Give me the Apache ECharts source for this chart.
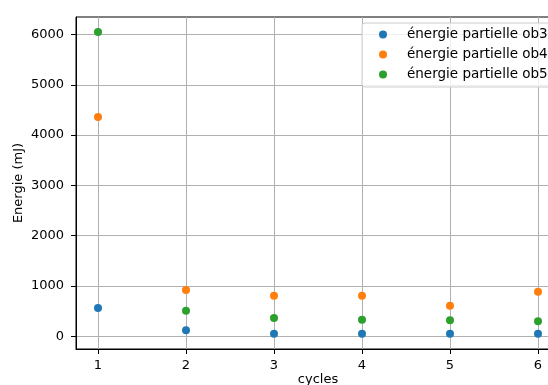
<!DOCTYPE html>
<html>
<head>
<meta charset="utf-8">
<script src="https://cdn.jsdelivr.net/npm/echarts@6/dist/echarts.min.js"></script>
<style>
html,body{margin:0;padding:0;background:#fff;}
#chart{width:548px;height:385px;}
</style>
</head>
<body>
<div id="chart"></div>
<script>
const cycles = [1, 2, 3, 4, 5, 6];
const ob3 = [563, 119, 52, 52, 52, 52];
const ob4 = [4360, 920, 807, 807, 608, 887];
const ob5 = [6050, 509, 364, 330, 318, 298];
const seriesNames = ['énergie partielle ob3', 'énergie partielle ob4', 'énergie partielle ob5'];
const yTicks = [0, 1000, 2000, 3000, 4000, 5000, 6000];
const xTicks = [1, 2, 3, 4, 5, 6];
const colors = ['#1f77b4', '#ff7f0e', '#2ca02c'];

const font = 'DejaVu Sans';
const chart = echarts.init(document.getElementById('chart'), null, {renderer: 'canvas'});

function pairs(ys) { return cycles.map((c, i) => [c, ys[i]]); }

chart.setOption({
  animation: false,
  backgroundColor: '#fff',
  color: colors,
  textStyle: {fontFamily: font},
  grid: {left: 76, top: 17, width: 484, height: 332, outerBoundsMode: 'none', containLabel: false,
    show: true, borderColor: '#000', borderWidth: 1, backgroundColor: 'transparent'},
  legend: {
    orient: 'vertical',
    left: 362, top: 23,
    padding: [2, 10, 3, 17],
    itemGap: 1,
    itemWidth: 8, itemHeight: 8,
    icon: 'circle',
    backgroundColor: 'rgba(255,255,255,0.8)',
    borderColor: '#cccccc', borderWidth: 1, borderRadius: 3,
    textStyle: {fontFamily: font, fontSize: 13.5, color: '#000', lineHeight: 19, padding: [0, 0, 0, 15]},
    data: seriesNames
  },
  xAxis: {
    type: 'value', min: 0.75, max: 6.25, interval: 1,
    name: 'cycles', nameLocation: 'middle', nameGap: 24, nameMoveOverlap: false,
    nameTextStyle: {fontFamily: font, fontSize: 13, color: '#000'},
    axisLine: {show: true, onZero: false, lineStyle: {color: '#000', width: 1}},
    axisTick: {show: true, length: 5, lineStyle: {color: '#000', width: 1}, customValues: xTicks},
    axisLabel: {fontFamily: font, fontSize: 13, color: '#000', margin: 10, customValues: xTicks,
      formatter: v => (xTicks.includes(v) ? String(v) : '')},
    splitLine: {show: true, lineStyle: {color: '#b0b0b0', width: 1}}
  },
  yAxis: {
    type: 'value', min: -252, max: 6348, interval: 1000,
    name: 'Energie (mJ)', nameLocation: 'middle', nameGap: 51, nameRotate: 90, nameMoveOverlap: false,
    nameTextStyle: {fontFamily: font, fontSize: 13, color: '#000'},
    axisLine: {show: true, onZero: false, lineStyle: {color: '#000', width: 1}},
    axisTick: {show: true, length: 5, lineStyle: {color: '#000', width: 1}, customValues: yTicks},
    axisLabel: {fontFamily: font, fontSize: 13, color: '#000', margin: 12, customValues: yTicks,
      formatter: v => (yTicks.includes(v) ? String(v) : '')},
    splitLine: {show: true, lineStyle: {color: '#b0b0b0', width: 1}}
  },
  series: [ob3, ob4, ob5].map((ys, i) => ({
    name: seriesNames[i],
    type: 'scatter',
    symbol: 'circle',
    symbolSize: 8,
    itemStyle: {color: colors[i], opacity: 1},
    data: pairs(ys)
  }))
});
</script>
</body>
</html>
